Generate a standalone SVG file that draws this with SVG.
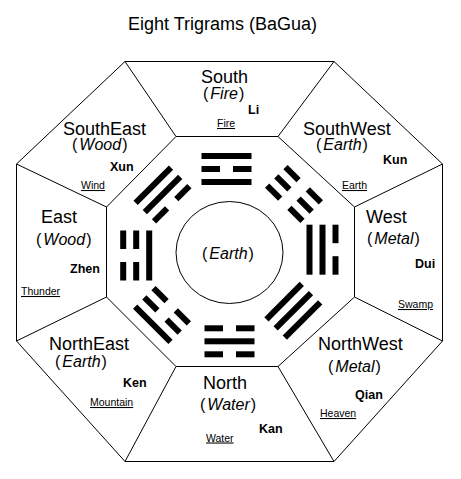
<svg xmlns="http://www.w3.org/2000/svg" xmlns:xlink="http://www.w3.org/1999/xlink" width="461" height="479" viewBox="0 0 461 479">
<style>
text{font-family:"Liberation Sans",Arial,sans-serif;fill:#000}
.title{font-size:18px}
.dir{font-size:18px}
.el{font-size:16px}
.it{font-style:italic}
.tg{font-size:12.5px;font-weight:bold}
.nm{font-size:10.5px;text-decoration:underline}
.ln{stroke:#000;stroke-width:1;fill:none}
</style>
<defs>
<rect id="s" x="-25" y="-3" width="50" height="6"/>
<g id="b"><rect x="-25" y="-3" width="18.5" height="6"/><rect x="6.5" y="-3" width="18.5" height="6"/></g>
</defs>
<rect width="461" height="479" fill="#fff"/>
<text class="title" x="128" y="30">Eight Trigrams (BaGua)</text>
<g id="connectors" class="ln">
<polygon points="125,61.5 334,61.5 442.5,164 442.5,341 334,461.5 125,461.5 16.5,341 16.5,164"/>
<polygon points="176,136.5 278,136.5 354.5,207 354.5,297 278,366.5 176,366.5 106.5,297 106.5,207"/>
<line x1="125" y1="61.5" x2="176" y2="136.5"/>
<line x1="334" y1="61.5" x2="278" y2="136.5"/>
<line x1="442.5" y1="164" x2="354.5" y2="207"/>
<line x1="442.5" y1="341" x2="354.5" y2="297"/>
<line x1="334" y1="461.5" x2="278" y2="366.5"/>
<line x1="125" y1="461.5" x2="176" y2="366.5"/>
<line x1="16.5" y1="341" x2="106.5" y2="297"/>
<line x1="16.5" y1="164" x2="106.5" y2="207"/>
</g>
<g id="center">
<ellipse class="ln" cx="229.5" cy="252.5" rx="53.5" ry="51"/>
<text class="el" x="202" y="259">(<tspan class="it" dx="2">Earth</tspan><tspan dx="1">)</tspan></text>
</g>
<g id="south">
<text class="dir" x="201" y="83">South</text>
<text class="el" x="203" y="99">(<tspan class="it" dx="2">Fire</tspan><tspan dx="1">)</tspan></text>
<text class="tg" x="248" y="113.5">Li</text>
<text class="nm" x="217" y="127">Fire</text>
<g transform="translate(226.5,169)"><use xlink:href="#s" y="-13"/><use xlink:href="#b"/><use xlink:href="#s" y="13"/></g>
</g>
<g id="southwest">
<text class="dir" x="303" y="135">SouthWest</text>
<text class="el" x="316" y="150">(<tspan class="it" dx="2">Earth</tspan><tspan dx="1">)</tspan></text>
<text class="tg" x="383" y="164">Kun</text>
<text class="nm" x="342" y="189">Earth</text>
<g transform="translate(294,194) rotate(45)"><use xlink:href="#b" y="-13"/><use xlink:href="#b"/><use xlink:href="#b" y="13"/></g>
</g>
<g id="west">
<text class="dir" x="366" y="223">West</text>
<text class="el" x="367" y="244">(<tspan class="it" dx="2">Metal</tspan><tspan dx="1">)</tspan></text>
<text class="tg" x="415" y="268">Dui</text>
<text class="nm" x="398" y="308">Swamp</text>
<g transform="translate(322.5,249.7) rotate(90)"><use xlink:href="#b" y="-13"/><use xlink:href="#s"/><use xlink:href="#s" y="13"/></g>
</g>
<g id="northwest">
<text class="dir" x="318" y="350">NorthWest</text>
<text class="el" x="328" y="372">(<tspan class="it" dx="2">Metal</tspan><tspan dx="1">)</tspan></text>
<text class="tg" x="355" y="399">Qian</text>
<text class="nm" x="320" y="417">Heaven</text>
<g transform="translate(293.3,310.8) rotate(135)"><use xlink:href="#s" y="-13"/><use xlink:href="#s"/><use xlink:href="#s" y="13"/></g>
</g>
<g id="north">
<text class="dir" x="203" y="389">North</text>
<text class="el" x="200" y="410">(<tspan class="it" dx="2">Water</tspan><tspan dx="1">)</tspan></text>
<text class="tg" x="259" y="432.5">Kan</text>
<text class="nm" x="206" y="441.5">Water</text>
<g transform="translate(229.5,341.3) rotate(180)"><use xlink:href="#b" y="-13"/><use xlink:href="#s"/><use xlink:href="#b" y="13"/></g>
</g>
<g id="northeast">
<text class="dir" x="49" y="350">NorthEast</text>
<text class="el" x="55" y="367">(<tspan class="it" dx="2">Earth</tspan><tspan dx="1">)</tspan></text>
<text class="tg" x="123" y="387">Ken</text>
<text class="nm" x="90" y="406">Mountain</text>
<g transform="translate(162,315) rotate(225)"><use xlink:href="#s" y="-13"/><use xlink:href="#b"/><use xlink:href="#b" y="13"/></g>
</g>
<g id="east">
<text class="dir" x="41" y="223">East</text>
<text class="el" x="36" y="245">(<tspan class="it" dx="2">Wood</tspan><tspan dx="1">)</tspan></text>
<text class="tg" x="70" y="273">Zhen</text>
<text class="nm" x="21" y="295">Thunder</text>
<g transform="translate(136.2,255.5) rotate(-90)"><use xlink:href="#b" y="-13"/><use xlink:href="#b"/><use xlink:href="#s" y="13"/></g>
</g>
<g id="southeast">
<text class="dir" x="63" y="135">SouthEast</text>
<text class="el" x="72" y="150">(<tspan class="it" dx="2">Wood</tspan><tspan dx="1">)</tspan></text>
<text class="tg" x="110" y="171">Xun</text>
<text class="nm" x="81" y="189">Wind</text>
<g transform="translate(162.5,194.5) rotate(-45)"><use xlink:href="#s" y="-13"/><use xlink:href="#s"/><use xlink:href="#b" y="13"/></g>
</g>
</svg>
